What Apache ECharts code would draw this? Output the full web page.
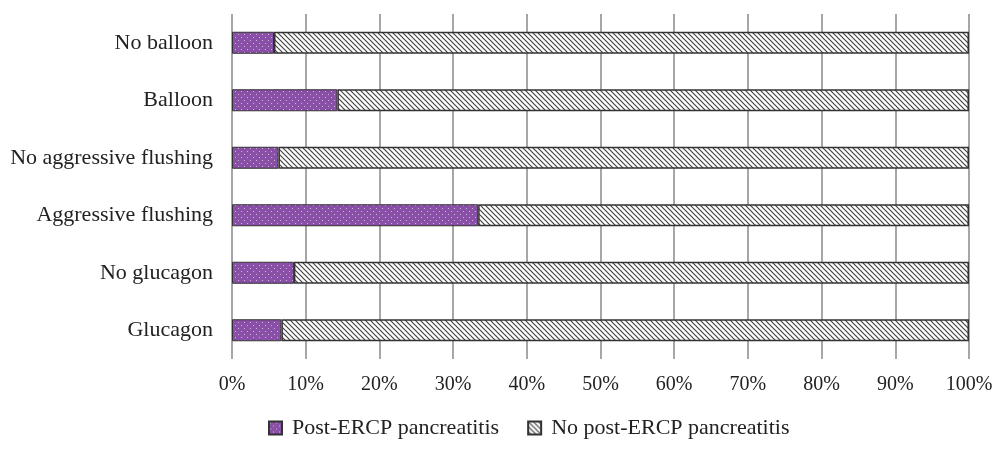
<!DOCTYPE html>
<html>
<head>
<meta charset="utf-8">
<script src="https://cdn.jsdelivr.net/npm/echarts@6/dist/echarts.min.js"></script>
<style>html,body{margin:0;padding:0;background:#fff}#c{width:1000px;height:450px}</style>
</head>
<body>
<div id="c"></div>
<script>
var categories = ['No balloon', 'Balloon', 'No aggressive flushing', 'Aggressive flushing', 'No glucagon', 'Glucagon'];
var postERCP = [5.7, 14.3, 6.3, 33.4, 8.4, 6.7];
var noPostERCP = [94.3, 85.7, 93.7, 66.6, 91.6, 93.3];
var seriesNames = ['Post-ERCP pancreatitis', 'No post-ERCP pancreatitis'];
var xTicks = [0, 10, 20, 30, 40, 50, 60, 70, 80, 90, 100];

function dotPattern() {
  var c = document.createElement('canvas');
  c.width = 6; c.height = 6;
  var g = c.getContext('2d');
  g.fillStyle = '#8a4fa6';
  g.fillRect(0, 0, 6, 6);
  g.fillStyle = '#c9b6d3';
  g.fillRect(1, 1, 1, 1);
  g.fillRect(4, 4, 1, 1);
  return c;
}
function hatchPattern() {
  var s = 5;
  var c = document.createElement('canvas');
  c.width = s; c.height = s;
  var g = c.getContext('2d');
  g.fillStyle = '#ffffff';
  g.fillRect(0, 0, s, s);
  g.strokeStyle = '#444';
  g.lineWidth = 1.2;
  g.beginPath();
  g.moveTo(-1, -1); g.lineTo(s + 1, s + 1);
  g.moveTo(-1, s - 1); g.lineTo(1, s + 1);
  g.moveTo(s - 1, -1); g.lineTo(s + 1, 1);
  g.stroke();
  return c;
}

var FONT = '"Liberation Serif", "DejaVu Serif", serif';
var chart = echarts.init(document.getElementById('c'));
chart.setOption({
  animation: false,
  backgroundColor: '#fff',
  grid: { left: 232, right: 31, top: 14, bottom: 91 },
  legend: {
    bottom: 6,
    left: 263,
    icon: 'rect',
    itemWidth: 13, itemHeight: 13, itemGap: 28,
    textStyle: { fontFamily: FONT, fontSize: 22, color: '#222', padding: [0, 0, 0, 5] },
    data: seriesNames
  },
  xAxis: {
    type: 'value', min: 0, max: 100, interval: 10,
    axisLine: { show: false }, axisTick: { show: false },
    splitLine: { show: true, lineStyle: { color: '#a6a6a6', width: 2 } },
    axisLabel: { formatter: '{value}%', fontFamily: FONT, fontSize: 20, color: '#222', margin: 16 }
  },
  yAxis: {
    type: 'category', data: categories, inverse: true,
    axisLine: { show: false }, axisTick: { show: false },
    axisLabel: { fontFamily: FONT, fontSize: 22, color: '#222', margin: 19 }
  },
  series: [
    {
      name: seriesNames[0], type: 'bar', stack: 'a', barWidth: 22,
      data: postERCP,
      itemStyle: { color: { image: dotPattern(), repeat: 'repeat' }, borderColor: '#333', borderWidth: 1 }
    },
    {
      name: seriesNames[1], type: 'bar', stack: 'a', barWidth: 22,
      data: noPostERCP,
      itemStyle: { color: { image: hatchPattern(), repeat: 'repeat' }, borderColor: '#333', borderWidth: 1.5 }
    }
  ]
});
</script>
</body>
</html>
